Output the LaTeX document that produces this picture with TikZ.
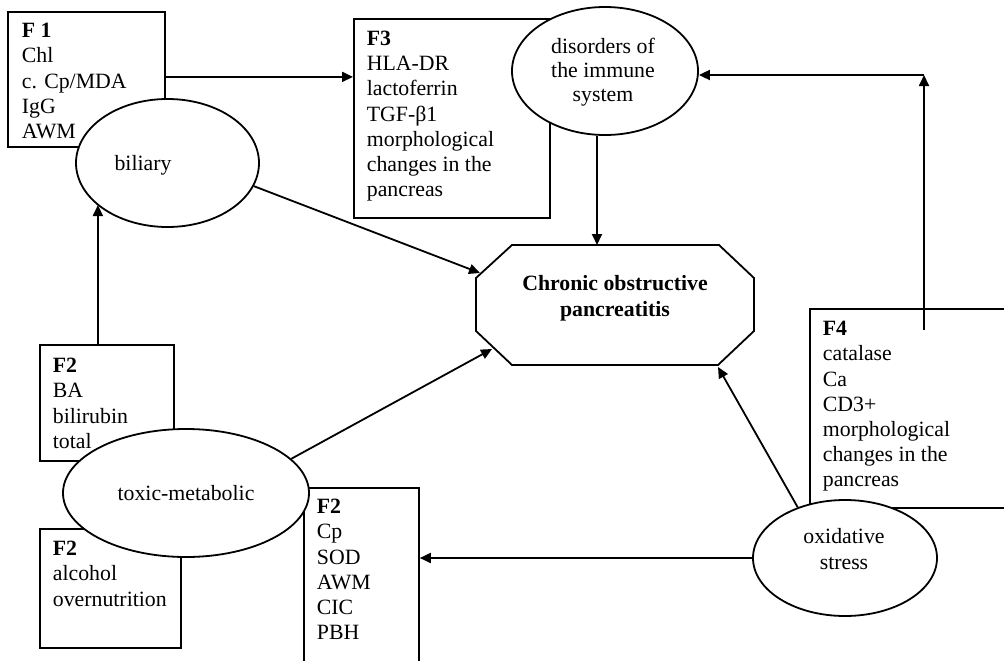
\documentclass[tikz,border=0pt]{standalone}
\usepackage{fontspec}
\setmainfont{Liberation Serif}
\usetikzlibrary{arrows.meta,shapes.geometric}
\begin{document}
\begin{tikzpicture}[x=1pt,y=-1pt,
  line width=1.8pt,
  frame/.style={draw, inner sep=0pt, anchor=north west},
  oval/.style={ellipse, draw, fill=white, inner sep=0pt},
  list/.style={anchor=north west, inner sep=0pt, align=left,
    font=\fontsize{21.8}{25.2}\selectfont},
  word/.style={inner sep=0pt, font=\fontsize{21.8}{25.2}\selectfont},
  arr/.style={-{Triangle[length=11pt,width=10pt]}}]
\useasboundingbox (0,0) rectangle (1004,661);
\clip (0,0) rectangle (1004,661);

% factor boxes
\node[frame, minimum width=157pt, minimum height=135pt] (f1) at (7,11) {};
\node[frame, minimum width=196pt, minimum height=199pt] (f3) at (353,18) {};
\node[frame, minimum width=134pt, minimum height=116pt] (ba) at (39,344) {};
\node[frame, minimum width=141pt, minimum height=119pt] (alc) at (39,528) {};
\node[frame, minimum width=115pt, minimum height=200pt] (cp) at (303,487) {};
\node[frame, minimum width=220pt, minimum height=199pt] (f4) at (809,308) {};

% central octagon
\node[inner sep=0pt, minimum width=278pt, minimum height=120pt] (cop) at (615,305) {};
\draw (512,245) -- (719,245) -- (754,278) -- (754,331) -- (718,365)
  -- (512,365) -- (476,331) -- (476,278) -- cycle;
\coordinate (hitA) at (480,273);
\coordinate (hitB) at (492,349);
\coordinate (hitC) at (718,367);
\coordinate (hitTop) at (597,245);

% causes
\node[oval, minimum width=183pt, minimum height=128pt] (bil) at (167.5,163) {};
\node[oval, minimum width=186pt, minimum height=128pt] (imm) at (605,71) {};
\node[oval, minimum width=246pt, minimum height=128pt] (tox) at (186,493) {};
\node[oval, minimum width=184pt, minimum height=116pt] (ox) at (845,558) {};

% connectors
\coordinate (f4up) at (924,330);
\coordinate (bend) at (924,75);
\draw[arr] ([yshift=2.5pt]f1.east) -- ([yshift=2.5pt]f1.east -| f3.west);
\draw[arr] (hitTop |- imm.south) -- (hitTop);
\draw[arr] (f4up) -- (bend);
\draw[arr] (bend) -- (bend -| imm.east);
\draw[arr] (bil.-15) -- (hitA);
\draw[arr] ([xshift=-9pt]ba.north) -- ([xshift=-9pt,yshift=139pt]ba.north);
\draw[arr] (tox.18) -- (hitB);
\draw[arr] (ox.133) -- (hitC);
\draw[arr] (ox.west) -- (ox.west -| cp.east);

% texts
\node[list] (t1) at (21,19.2) {\strut\textbf{F 1}\\Chl\\c. Cp/MDA\\IgG\\AWM};
\node[list] (t3) at (366,27) {\strut\textbf{F3}\\HLA-DR\\lactoferrin\\TGF-β1\\morphological\\changes in the\\pancreas};
\node[list] (t2a) at (52,354.2) {\strut\textbf{F2}\\BA\\bilirubin\\total};
\node[list] (t2b) at (52,537.2) {\strut\textbf{F2}\\alcohol\\overnutrition};
\node[list] (t2c) at (316,495.2) {\strut\textbf{F2}\\Cp\\SOD\\AWM\\CIC\\PBH};
\node[list] (t4) at (822,317.2) {\strut\textbf{F4}\\catalase\\Ca\\CD3+\\morphological\\changes in the\\pancreas};

\node[word, anchor=base] (tbil) at (143,170) {biliary};
\node[word, anchor=base] (ttox) at (186,500) {toxic-metabolic};
\node[word, anchor=north, align=center, font=\fontsize{21.8}{24}\selectfont]
  (timm) at (603,36.2) {\strut disorders of\\the immune\\system};
\node[word, anchor=north, align=center, font=\fontsize{21.8}{26}\selectfont]
  (tox2) at (844,524.8) {\strut oxidative\\stress};
\node[word, anchor=north, align=center, font=\fontsize{21.8}{25.5}\selectfont\bfseries]
  (tcop) at (615,272.2) {\strut Chronic obstructive\\pancreatitis};
\end{tikzpicture}
\end{document}
